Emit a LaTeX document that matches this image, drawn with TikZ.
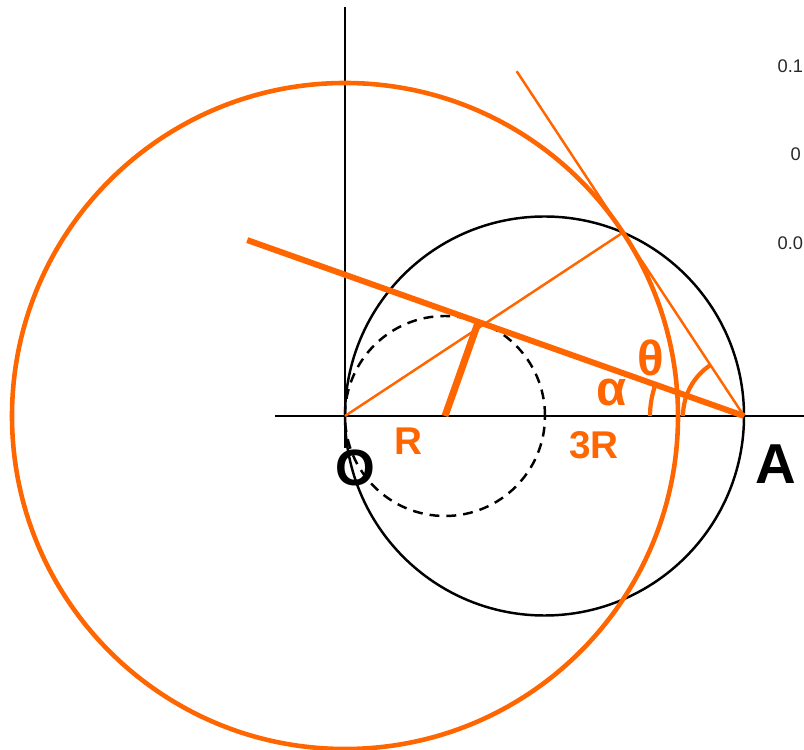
\documentclass[tikz,border=0pt]{standalone}
\usepackage{fontspec}
\usetikzlibrary{calc}
\setmainfont{Liberation Sans}
\definecolor{org}{RGB}{255,102,0}
\definecolor{tick}{RGB}{40,40,40}
\begin{document}
\begin{tikzpicture}[x=0.01cm,y=0.01cm,
  blk/.style={black,line width=0.7pt},
  thinorg/.style={org,line width=0.7pt},
  bigorg/.style={org,line width=1.3pt},
  thickorg/.style={org,line width=1.7pt},
  arcorg/.style={org,line width=1.2pt},
  lbl/.style={org,font=\fontsize{11}{13}\selectfont\bfseries,inner sep=0pt},
  glbl/.style={org,font=\fontsize{14}{16}\selectfont\bfseries,inner sep=0pt},
  pt/.style={black,font=\fontsize{14.5}{16}\selectfont\bfseries,inner sep=0pt},
  ticklbl/.style={tick,font=\fontsize{5.2}{6}\selectfont,inner sep=0pt,anchor=west}]
\useasboundingbox (0,0) rectangle (804,749);
\fill[white] (0,0) rectangle (804,749);
% key points
\coordinate (O) at (345,333);
\coordinate (A) at (744,333);
\coordinate (C1) at (445,333);
\coordinate (C2) at (544.5,333);
\coordinate (P) at ($(C1)+(70.5:100)$);
\coordinate (T) at ($(A)+(123.4:219.8)$);
\coordinate (Tend) at ($(A)+(123.4:413)$);
\coordinate (Pend) at ($(A)+(160.5:527)$);
\coordinate (vtop) at (345,742);
\coordinate (vbot) at (345,301);
\coordinate (hl) at (275,333);
\coordinate (hr) at (804,333);
% axes
\draw[blk] (vtop) -- (vbot);
\draw[blk] (hl) -- (hr);
% circles
\draw[blk] (C2) circle[radius=199.5];
\draw[blk,dash pattern=on 2.8pt off 2pt] (C1) circle[radius=100];
\draw[bigorg] (O) circle[radius=333];
% lines
\draw[thinorg] (Tend) -- (A);
\draw[thinorg] (O) -- (T);
\draw[thickorg] (Pend) -- (A);
\draw[org,line width=2pt] (C1) -- (P);
% angle arcs
\draw[arcorg] ($(A)+(123.4:61)$) arc[start angle=123.4,end angle=180,radius=61];
\draw[arcorg] ($(A)+(160.5:94)$) arc[start angle=160.5,end angle=180,radius=94];
% labels
\node[glbl] (theta) at (651,391) {θ};
\node[glbl] (alpha) at (612,356) {α};
\node[lbl] (lR) at (408,308) {R};
\node[lbl] (l3R) at (594,304) {3R};
\node[pt] (lO) at (355,281) {O};
\node[pt,font=\fontsize{16}{18}\selectfont\bfseries] (lA) at (776,285) {A};
% tick labels (cropped)
\node[ticklbl] (t1) at (777,683) {0.1};
\node[ticklbl] (t2) at (790,595) {0};
\node[ticklbl] (t3) at (777,506) {0.0};
\end{tikzpicture}
\end{document}
